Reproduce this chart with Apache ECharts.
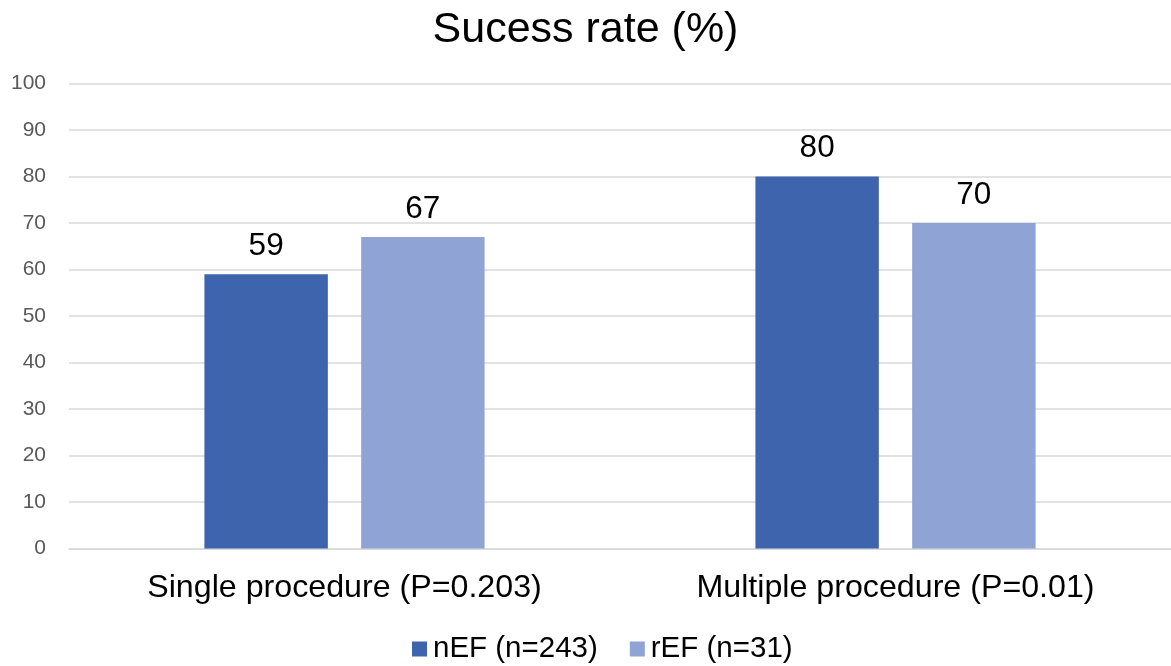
<!DOCTYPE html>
<html>
<head>
<meta charset="utf-8">
<script src="https://cdn.jsdelivr.net/npm/echarts@6/dist/echarts.min.js"></script>
<style>
  html, body { margin: 0; padding: 0; background: #fff; }
  #chart { width: 1171px; height: 666px; }
</style>
</head>
<body>
<div id="chart"></div>
<script>
const categories = ['Single procedure (P=0.203)', 'Multiple procedure (P=0.01)'];
const seriesNames = ['nEF (n=243)', 'rEF (n=31)'];
const nEFValues = [59, 80];
const rEFValues = [67, 70];
const colors = ['#3D64AD', '#8FA4D4'];
const font = '"Liberation Sans", Arial, sans-serif';

const chart = echarts.init(document.getElementById('chart'), null, { renderer: 'canvas' });

const labelStyle = {
  show: true,
  position: 'top',
  distance: 12,
  color: '#000',
  fontFamily: font,
  fontSize: 31.5
};

chart.setOption({
  animation: false,
  title: {
    text: 'Sucess rate (%)',
    left: 'center',
    top: 4,
    textStyle: { fontFamily: font, fontSize: 43, fontWeight: 'normal', color: '#000' }
  },
  legend: {
    top: 629,
    left: 407,
    itemWidth: 15,
    itemHeight: 15,
    itemGap: 32,
    icon: 'rect',
    textStyle: { fontFamily: font, fontSize: 29.5, color: '#000', padding: [0, 0, 0, 1] },
    data: seriesNames
  },
  grid: { left: 69, right: 0, top: 83.5, bottom: 117.5, containLabel: false },
  xAxis: {
    type: 'category',
    data: categories,
    axisLine: { show: true, lineStyle: { color: '#d9d9d9', width: 1.5 } },
    axisTick: { show: false },
    axisLabel: { fontFamily: font, fontSize: 32.2, color: '#000', margin: 24 }
  },
  yAxis: {
    type: 'value',
    min: 0,
    max: 100,
    interval: 10,
    axisLine: { show: false },
    axisTick: { show: false },
    splitLine: { lineStyle: { color: '#d9d9d9', width: 1.5 } },
    axisLabel: { fontFamily: font, fontSize: 21, color: '#595959', margin: 23 }
  },
  series: [
    {
      name: seriesNames[0],
      type: 'bar',
      data: nEFValues,
      barWidth: '22.4%',
      barGap: '27%',
      itemStyle: { color: colors[0] },
      label: labelStyle
    },
    {
      name: seriesNames[1],
      type: 'bar',
      data: rEFValues,
      barWidth: '22.4%',
      itemStyle: { color: colors[1] },
      label: labelStyle
    }
  ]
});
</script>
</body>
</html>
